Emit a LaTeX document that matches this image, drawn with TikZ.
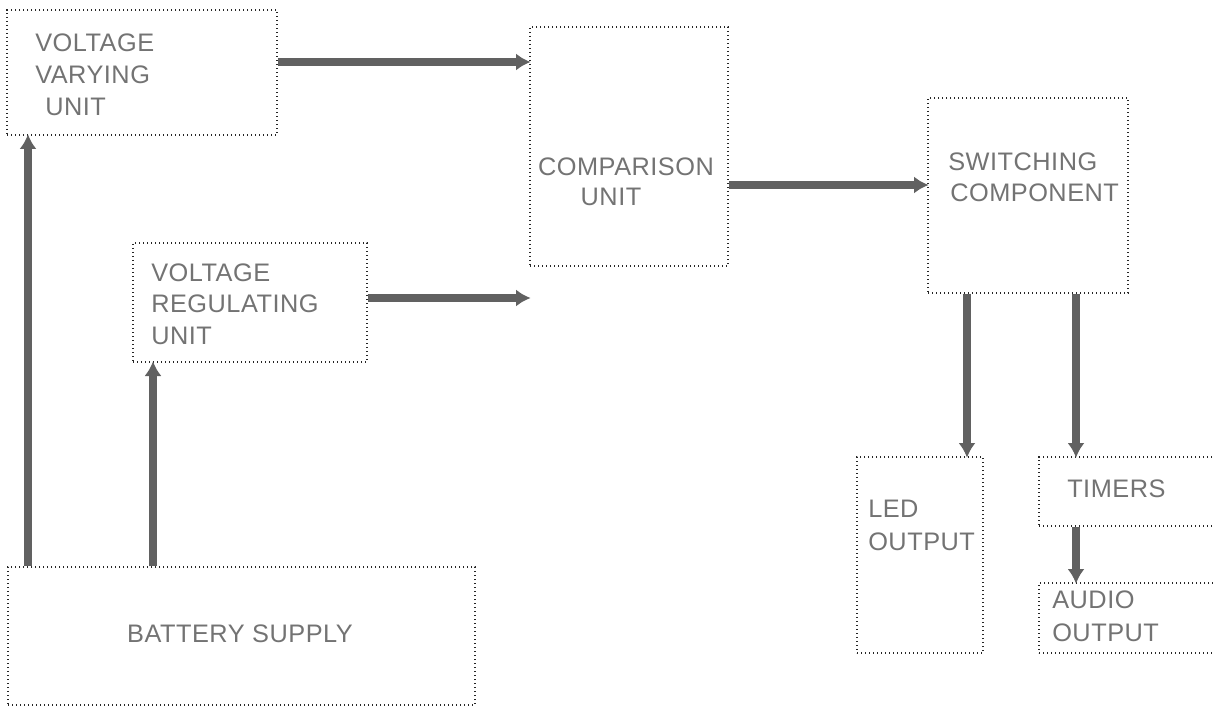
\documentclass[tikz,border=0pt]{standalone}
\usepackage{fontspec}
\setmainfont{Liberation Sans}[LetterSpace=2]
\usetikzlibrary{arrows.meta}
\begin{document}
\begin{tikzpicture}[x=0.75pt,y=-0.75pt,
  blk/.style={draw=black!85, dotted, line width=1pt, inner sep=0pt},
  lbl/.style={inner sep=0pt, text=black!55, font=\fontsize{19}{22}\selectfont},
  flow/.style={draw=black!62, line width=6pt, -{Latex[length=11pt,width=13pt]}, shorten >=-1pt}]
\useasboundingbox (0,0) rectangle (1213,709);
% boxes
\node[blk, minimum width=270*0.75pt, minimum height=125*0.75pt] (vv) at (142,72.5) {};
\node[blk, minimum width=198*0.75pt, minimum height=239*0.75pt] (cmp) at (629,146.5) {};
\node[blk, minimum width=200*0.75pt, minimum height=195*0.75pt] (sw) at (1028,195.5) {};
\node[blk, minimum width=234*0.75pt, minimum height=119*0.75pt] (vr) at (250,302.5) {};
\node[blk, minimum width=467*0.75pt, minimum height=138*0.75pt] (bat) at (241.5,636) {};
\node[blk, minimum width=126*0.75pt, minimum height=196*0.75pt] (led) at (920,555) {};
\node[blk, minimum width=180*0.75pt, minimum height=69*0.75pt] (tim) at (1129,491.5) {};
\node[blk, minimum width=180*0.75pt, minimum height=70*0.75pt] (aud) at (1129,618) {};
% labels
\node[lbl, anchor=west] (vv1) at (35,43) {VOLTAGE};
\node[lbl, anchor=west] (vv2) at (35,75) {VARYING};
\node[lbl, anchor=west] (vv3) at (45,107) {UNIT};
\node[lbl] (cmp1) at (626,167) {COMPARISON};
\node[lbl] (cmp2) at (611,197) {UNIT};
\node[lbl, anchor=west] (sw1) at (948,162) {SWITCHING};
\node[lbl, anchor=west] (sw2) at (950,193) {COMPONENT};
\node[lbl, anchor=west] (vr1) at (151,273) {VOLTAGE};
\node[lbl, anchor=west] (vr2) at (151,304) {REGULATING};
\node[lbl, anchor=west] (vr3) at (151,336) {UNIT};
\node[lbl] (bat1) at (240,634) {BATTERY SUPPLY};
\node[lbl, anchor=west] (led1) at (868,509) {LED};
\node[lbl, anchor=west] (led2) at (868,542) {OUTPUT};
\node[lbl, anchor=west] (tim1) at (1067,489) {TIMERS};
\node[lbl, anchor=west] (aud1) at (1052,600) {AUDIO};
\node[lbl, anchor=west] (aud2) at (1052,633) {OUTPUT};
% connectors
\draw[flow] (vv.east |- 0,62) -- (cmp.west |- 0,62);
\draw[flow] (vr.east |- 0,298) -- (cmp.west |- 0,298);
\draw[flow] (cmp.east |- 0,185) -- (sw.west |- 0,185);
\draw[flow] (bat.north -| 28,0) -- (vv.south -| 28,0);
\draw[flow] (bat.north -| 153,0) -- (vr.south -| 153,0);
\draw[flow] (sw.south -| 967,0) -- (led.north -| 967,0);
\draw[flow] (sw.south -| 1076,0) -- (tim.north -| 1076,0);
\draw[flow] (tim.south -| 1076,0) -- (aud.north -| 1076,0);
\end{tikzpicture}
\end{document}
